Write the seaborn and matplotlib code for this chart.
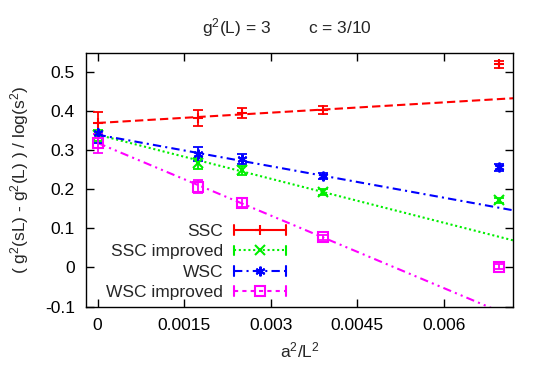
import numpy as np
import pandas as pd
import matplotlib
matplotlib.use("Agg")
import matplotlib.pyplot as plt
import seaborn as sns
from matplotlib.legend_handler import HandlerBase
from matplotlib.lines import Line2D

# ---- data ----
series = ["SSC", "SSC improved", "WSC", "WSC improved"]
x_vals = [0.0, 1/576, 1/400, 1/256, 1/144]
ssc_y = [0.370, 0.382, 0.395, 0.403, 0.521]
ssc_err = [0.028, 0.020, 0.013, 0.011, 0.009]
ssci_y = [0.338, 0.267, 0.249, 0.193, 0.172]
ssci_err = [0.015, 0.014, 0.012, 0.008, 0.006]
wsc_y = [0.344, 0.290, 0.278, 0.235, 0.256]
wsc_err = [0.026, 0.018, 0.012, 0.008, 0.008]
wsci_y = [0.318, 0.207, 0.166, 0.077, 0.002]
wsci_err = [0.024, 0.017, 0.011, 0.006, 0.006]
fit_intercept = [0.370, 0.340, 0.340, 0.319]
fit_slope = [8.8, -37.6, -26.9, -62.0]
x_ticks = [0, 0.0015, 0.003, 0.0045, 0.006]
x_tick_labels = ["0", "0.0015", "0.003", "0.0045", "0.006"]
y_ticks = [-0.1, 0, 0.1, 0.2, 0.3, 0.4, 0.5]
y_tick_labels = ["-0.1", "0", "0.1", "0.2", "0.3", "0.4", "0.5"]

ys = [ssc_y, ssci_y, wsc_y, wsci_y]
errs = [ssc_err, ssci_err, wsc_err, wsci_err]
colors = {"SSC": "#ff0000", "SSC improved": "#00ee00", "WSC": "#0000ff", "WSC improved": "#ff00ff"}
markers = {"SSC": "+", "SSC improved": "x", "WSC": (6, 2, 0), "WSC improved": "s"}
fit_dashes = {"SSC": (4, 2), "SSC improved": (1, 1.3), "WSC": (4, 2, 1, 2), "WSC improved": (4, 2, 1, 2, 1, 2)}
leg_ls = {"SSC": "-", "SSC improved": (0, (1, 1.3)), "WSC": (0, (4, 2, 1, 2)), "WSC improved": (0, (2, 2))}

sns.set_style("ticks")
plt.rcParams["font.family"] = ["Liberation Sans", "DejaVu Sans"]
plt.rcParams["mathtext.fontset"] = "custom"
plt.rcParams["mathtext.rm"] = "Liberation Sans"
plt.rcParams["mathtext.it"] = "Liberation Sans"
plt.rcParams["mathtext.default"] = "regular"

FS = 12.5
fig = plt.figure(figsize=(5.45, 3.81), dpi=100)
ax = fig.add_axes([0.1578, 0.1955, 0.9418 - 0.1578, 0.8617 - 0.1955])

xlim = (-0.0002, 0.0072)
ylim = (-0.1, 0.55)

# fit lines
rows = []
for s, a, b in zip(series, fit_intercept, fit_slope):
    for xx in (0.0, xlim[1]):
        rows.append({"x": xx, "y": a + b * xx, "series": s})
fits = pd.DataFrame(rows)
sns.lineplot(data=fits, x="x", y="y", hue="series", style="series",
             palette=colors, dashes=fit_dashes, linewidth=1.5,
             legend=False, ax=ax, zorder=2)

# data points
for s, y, e in zip(series, ys, errs):
    ms = 7 if s == "WSC improved" else 7
    ax.errorbar(x_vals, y, yerr=e, fmt="none", ecolor=colors[s],
                elinewidth=1.3, capsize=3.5, capthick=1.3, zorder=3)
    ax.plot(x_vals, y, linestyle="none", marker=markers[s], ms=ms,
            mfc="none", mec=colors[s], mew=1.5, zorder=4)


class GPHandler(HandlerBase):
    def __init__(self, color, ls, marker, ms):
        super().__init__()
        self.c, self.ls, self.m, self.ms = color, ls, marker, ms

    def create_artists(self, legend, orig, xdescent, ydescent, width, height, fontsize, trans):
        y = height / 2 - ydescent
        x0 = -xdescent
        x1 = x0 + width
        cap = 3.5
        arts = [Line2D([x0, x1], [y, y], color=self.c, lw=1.5, linestyle=self.ls),
                Line2D([x0, x0], [y - cap, y + cap], color=self.c, lw=1.5),
                Line2D([x1, x1], [y - cap, y + cap], color=self.c, lw=1.5),
                Line2D([(x0 + x1) / 2], [y], linestyle="none", marker=self.m, ms=self.ms,
                       mfc="none", mec=self.c, mew=1.5)]
        for a in arts:
            a.set_transform(trans)
        return arts


proxies = [Line2D([], [], color=colors[s]) for s in series]
hmap = {p: GPHandler(colors[s], leg_ls[s], markers[s], 7)
        for p, s in zip(proxies, series)}
ax.legend(proxies, series, handler_map=hmap, markerfirst=False, frameon=False,
          fontsize=FS, handlelength=3.0, handletextpad=0.6, labelspacing=0.3,
          loc="lower left", bbox_to_anchor=(0.019, -0.023), borderaxespad=0.3)

ax.set_xlim(*xlim)
ax.set_ylim(*ylim)
ax.set_xticks(x_ticks)
ax.set_xticklabels(x_tick_labels)
ax.set_yticks(y_ticks)
ax.set_yticklabels(y_tick_labels)
ax.tick_params(direction="in", length=6, width=1, top=True, right=True,
               labelsize=FS, colors="black", pad=8)
for sp in ax.spines.values():
    sp.set_visible(True)
    sp.set_color("black")
    sp.set_linewidth(1)
ax.set_xlabel("a$^2$/L$^2$", fontsize=FS, labelpad=6)
ax.set_ylabel("( g$^2$(sL) - g$^2$(L) ) / log(s$^2$)", fontsize=FS, labelpad=10)
fig.text(0.527, 0.929, "g$^2$(L) = 3        c = 3/10", ha="center", va="center", fontsize=FS)

fig.savefig("out.png", dpi=100)
